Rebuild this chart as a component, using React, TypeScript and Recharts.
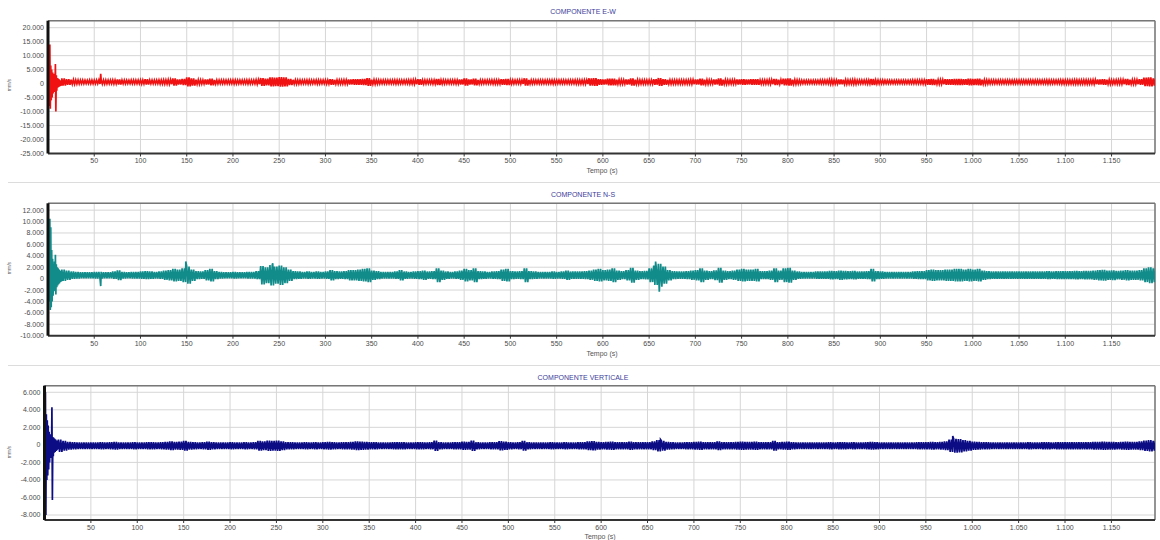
import React from "react";
import { LineChart, Line, XAxis, YAxis, CartesianGrid, ReferenceLine } from "recharts";

// time axis (seconds)
const T_MAX = 1197;
const TIME_TICKS = [50, 100, 150, 200, 250, 300, 350, 400, 450, 500, 550, 600, 650, 700, 750, 800, 850, 900, 950, 1000, 1050, 1100, 1150];
const BIN_START = 15; // envelope bins start here, every 5 s
const BIN_STEP = 5;

// --- COMPONENTE E-W ---
const EW_TICKS = [-25000, -20000, -15000, -10000, -5000, 0, 5000, 10000, 15000, 20000];
const EW_CENTER = 600;
const EW_ONSET_HI = [8000, 9000, 14000, 6500, 5000, 4000, 3500, 3000, 7000, 3000, 2000, 1800, 1500, 1200, 1000];
const EW_ONSET_LO = [-6000, -8000, -9000, -6000, -5000, -3500, -3000, -2500, -10000, -2500, -1500, -1200, -1000, -800, -700];
const EW_AMP = [
  1300, 1000, 800, 700, 650, 600, 650, 650, 700, 700,
  650, 700, 900, 650, 600, 650, 650, 700, 950, 650,
  650, 700, 750, 800, 1300, 900, 1100, 1600, 1300, 800,
  700, 900, 1200, 700, 650, 650, 650, 700, 650, 650,
  700, 650, 800, 1400, 1200, 1600, 1500, 1700, 1600, 1100,
  750, 700, 650, 700, 650, 700, 650, 700, 1000, 750,
  700, 750, 900, 1000, 1000, 1100, 1400, 800, 700, 650,
  650, 650, 700, 650, 650, 700, 800, 1000, 700, 650,
  700, 1100, 700, 650, 650, 700, 900, 1300, 900, 1200,
  700, 650, 650, 700, 700, 1000, 1100, 700, 650, 700,
  1300, 700, 650, 650, 650, 650, 700, 650, 650, 650,
  650, 700, 700, 750, 1300, 1400, 1000, 900, 1200, 1200,
  800, 750, 900, 1300, 800, 700, 700, 700, 1000, 1400,
  1000, 750, 700, 700, 700, 700, 800, 900, 1200, 800,
  700, 900, 1300, 800, 700, 750, 900, 1000, 900, 1000,
  1000, 700, 700, 800, 1100, 800, 1200, 1300, 800, 700,
  600, 600, 600, 600, 650, 650, 800, 700, 850, 800,
  700, 800, 650, 650, 700, 1100, 700, 650, 600, 600,
  600, 600, 600, 600, 650, 650, 700, 1000, 1100, 800,
  800, 1000, 1000, 1100, 1100, 1000, 1200, 1100, 1200, 800,
  700, 650, 650, 650, 650, 650, 650, 650, 650, 650,
  650, 650, 650, 700, 650, 650, 700, 700, 700, 750,
  700, 750, 700, 800, 900, 1000, 800, 700, 750, 800,
  1100, 800, 800, 1000, 1500, 1600, 1300,
];
const EW_SPIKES = [{ t: 57, v: 3500 }];

// --- COMPONENTE N-S ---
const NS_TICKS = [-10000, -8000, -6000, -4000, -2000, 0, 2000, 4000, 6000, 8000, 10000, 12000];
const NS_CENTER = 600;
const NS_ONSET_HI = [6000, 8000, 10500, 9000, 5000, 3500, 2500, 3000, 4200, 2500, 2000, 1800, 1600, 1400, 1300];
const NS_ONSET_LO = [-3000, -4000, -5500, -5000, -4000, -3000, -2000, -2200, -2800, -1500, -1200, -1000, -800, -600, -500];
const NS_AMP = [
  1000, 800, 650, 600, 550, 550, 550, 600, 600, 550,
  550, 650, 850, 600, 550, 600, 600, 650, 700, 650,
  600, 650, 800, 900, 1100, 1000, 1200, 1500, 1000, 700,
  650, 900, 1100, 700, 600, 550, 550, 600, 550, 550,
  600, 600, 700, 1600, 1400, 1800, 1500, 1700, 1400, 1000,
  700, 650, 600, 650, 600, 650, 600, 650, 900, 700,
  650, 700, 900, 900, 1000, 1100, 1200, 800, 700, 600,
  600, 600, 650, 900, 650, 600, 650, 700, 800, 650,
  700, 1200, 800, 650, 600, 650, 800, 1100, 900, 1200,
  700, 650, 600, 650, 700, 1000, 1100, 700, 650, 700,
  1200, 700, 650, 600, 600, 600, 650, 600, 650, 800,
  650, 650, 650, 700, 800, 1000, 1100, 900, 1000, 1200,
  800, 700, 900, 1300, 800, 700, 750, 1200, 1700, 2000,
  1500, 900, 700, 650, 650, 700, 800, 900, 1200, 800,
  700, 850, 1300, 800, 700, 800, 1000, 1100, 1000, 1000,
  1100, 700, 700, 800, 1200, 800, 1200, 1300, 800, 650,
  600, 600, 600, 650, 650, 650, 750, 700, 800, 750,
  700, 750, 650, 650, 700, 1100, 700, 650, 600, 600,
  600, 600, 600, 600, 650, 700, 700, 900, 1000, 900,
  900, 1000, 1000, 1100, 1100, 1000, 1100, 1000, 1100, 800,
  700, 650, 650, 650, 650, 650, 650, 650, 650, 650,
  650, 650, 650, 700, 650, 700, 700, 700, 700, 750,
  700, 750, 750, 800, 900, 950, 800, 850, 750, 800,
  900, 800, 800, 900, 1200, 1400, 1200,
];
const NS_SPIKES = [{ t: 57, v: -1300 }, { t: 149, v: 3000 }, { t: 243, v: 2700 }, { t: 661, v: -2300 }, { t: 657, v: 3000 }];

// --- COMPONENTE VERTICALE ---
const VT_TICKS = [-8000, -6000, -4000, -2000, 0, 2000, 4000, 6000];
const VT_CENTER = -100;
const VT_ONSET_HI = [9000, 6000, 3500, 2800, 2200, 1500, 1200, 1000, 4300, 900, 800, 700, 600, 500, 500];
const VT_ONSET_LO = [-9500, -8000, -4000, -3500, -2800, -2000, -1500, -1200, -6300, -1300, -900, -800, -700, -600, -500];
const VT_AMP = [
  700, 550, 450, 400, 380, 370, 380, 370, 380, 400,
  380, 400, 450, 380, 370, 380, 400, 380, 380, 420,
  400, 380, 420, 450, 500, 450, 480, 550, 450, 400,
  380, 420, 480, 400, 380, 370, 380, 400, 380, 380,
  400, 380, 420, 550, 500, 600, 550, 580, 500, 420,
  400, 380, 380, 400, 380, 400, 380, 400, 450, 400,
  380, 400, 420, 450, 500, 480, 450, 420, 400, 380,
  380, 380, 400, 420, 400, 380, 380, 400, 420, 380,
  400, 600, 420, 380, 380, 400, 420, 480, 450, 600,
  400, 380, 380, 400, 420, 520, 480, 400, 380, 400,
  550, 400, 380, 380, 380, 380, 400, 380, 380, 400,
  380, 380, 400, 420, 500, 520, 450, 420, 450, 480,
  420, 400, 420, 480, 420, 400, 400, 420, 500, 650,
  550, 450, 400, 380, 380, 400, 420, 450, 480, 420,
  400, 420, 500, 420, 400, 420, 450, 480, 450, 450,
  480, 400, 400, 420, 550, 420, 450, 480, 420, 380,
  380, 370, 370, 380, 380, 380, 400, 380, 400, 400,
  380, 400, 380, 380, 400, 450, 400, 380, 370, 370,
  370, 370, 370, 380, 380, 400, 400, 420, 450, 420,
  450, 500, 700, 800, 750, 650, 550, 480, 450, 420,
  400, 380, 380, 380, 380, 380, 380, 380, 380, 400,
  380, 380, 400, 400, 380, 400, 400, 420, 400, 420,
  400, 420, 420, 450, 450, 480, 450, 450, 420, 450,
  480, 450, 450, 500, 600, 650, 550,
];
const VT_SPIKES = [{ t: 979, v: 1000 }, { t: 664, v: 600 }];

type Pt = { t: number; v: number };

function buildTrace(center: number, onHi: number[], onLo: number[], amp: number[], spikes: Pt[]): Pt[] {
  const pts: Pt[] = [];
  onHi.forEach((h, i) => {
    pts.push({ t: i, v: h });
    pts.push({ t: i + 0.5, v: onLo[i] });
  });
  amp.forEach((a, i) => {
    const t0 = BIN_START + i * BIN_STEP;
    for (let k = 0; k < 4; k++) {
      pts.push({ t: t0 + k * 1.25, v: k % 2 === 0 ? center + a : center - a });
    }
  });
  spikes.forEach((s) => pts.push(s));
  return pts.sort((a, b) => a.t - b.t);
}

const fmt = (v: number) => {
  const s = Math.abs(v).toString().replace(/\B(?=(\d{3})+(?!\d))/g, ".");
  return v < 0 ? "-" + s : s;
};

const FONT = "'Liberation Sans', Arial, sans-serif";
const tickStyle = { fontSize: 7, fill: "#4a4a4a", fontFamily: FONT };

type PanelProps = {
  top: number;
  data: Pt[];
  color: string;
  domain: [number, number];
  ticks: number[];
  axisW: number;
  mTop: number;
  mBottom: number;
};

function Panel({ top, data, color, domain, ticks, axisW, mTop, mBottom }: PanelProps) {
  return (
    <div style={{ position: "absolute", left: 0, top, width: 1160, height: 180 }}>
      <LineChart width={1160} height={180} data={data} margin={{ top: mTop, right: 5, bottom: mBottom, left: 0 }}>
        <CartesianGrid stroke="#d6d6d6" strokeWidth={1} />
        <XAxis
          dataKey="t"
          type="number"
          domain={[0, T_MAX]}
          ticks={TIME_TICKS}
          allowDataOverflow
          tickFormatter={fmt}
          tick={tickStyle}
          tickSize={3}
          tickMargin={2}
          height={20}
          axisLine={{ stroke: "#333", strokeWidth: 2 }}
          tickLine={{ stroke: "#333" }}
          interval={0}
        />
        <YAxis
          type="number"
          domain={domain}
          ticks={ticks}
          allowDataOverflow
          tickFormatter={fmt}
          tick={tickStyle}
          tickSize={2}
          tickMargin={2}
          width={axisW}
          axisLine={{ stroke: "#111", strokeWidth: 3 }}
          tickLine={false}
          interval={0}
        />
        <ReferenceLine y={domain[1]} stroke="#777" strokeWidth={1.5} />
        <ReferenceLine x={T_MAX} stroke="#777" strokeWidth={1.5} />
        <Line type="linear" dataKey="v" stroke={color} strokeWidth={1.7} dot={false} isAnimationActive={false} />
      </LineChart>
    </div>
  );
}

const titleStyle: React.CSSProperties = {
  position: "absolute",
  width: 200,
  textAlign: "center",
  fontSize: 7,
  color: "#3c3c9a",
  fontFamily: FONT,
  lineHeight: "8px",
};
const tempoStyle: React.CSSProperties = {
  position: "absolute",
  width: 100,
  textAlign: "center",
  fontSize: 7,
  color: "#555",
  fontFamily: FONT,
  lineHeight: "8px",
};
const unitStyle: React.CSSProperties = {
  position: "absolute",
  width: 30,
  textAlign: "center",
  fontSize: 5,
  color: "#666",
  fontFamily: FONT,
  lineHeight: "6px",
  transform: "rotate(-90deg)",
};
const sepStyle: React.CSSProperties = {
  position: "absolute",
  left: 8,
  width: 1152,
  height: 1,
  background: "#dcdcdc",
};

export default function App() {
  const ew = buildTrace(EW_CENTER, EW_ONSET_HI, EW_ONSET_LO, EW_AMP, EW_SPIKES);
  const ns = buildTrace(NS_CENTER, NS_ONSET_HI, NS_ONSET_LO, NS_AMP, NS_SPIKES);
  const vt = buildTrace(VT_CENTER, VT_ONSET_HI, VT_ONSET_LO, VT_AMP, VT_SPIKES);

  return (
    <div style={{ position: "relative", width: 1160, height: 540, background: "#fff", overflow: "hidden" }}>
      <style>{`body{margin:0}`}</style>
      <Panel top={0} data={ew} color="#f01212" domain={[-25000, 22500]} ticks={EW_TICKS} axisW={48} mTop={20.7} mBottom={6.5} />
      <Panel top={180} data={ns} color="#128c8a" domain={[-10000, 13200]} ticks={NS_TICKS} axisW={48} mTop={23.3} mBottom={4.3} />
      <Panel top={360} data={vt} color="#0c0c84" domain={[-8570, 6750]} ticks={VT_TICKS} axisW={44.5} mTop={25.7} mBottom={0} />

      <div style={{ ...titleStyle, left: 483, top: 8 }}>COMPONENTE E-W</div>
      <div style={{ ...titleStyle, left: 483, top: 191 }}>COMPONENTE N-S</div>
      <div style={{ ...titleStyle, left: 483, top: 374 }}>COMPONENTE VERTICALE</div>

      <div style={{ ...tempoStyle, left: 552, top: 167 }}>Tempo (s)</div>
      <div style={{ ...tempoStyle, left: 552, top: 350 }}>Tempo (s)</div>
      <div style={{ ...tempoStyle, left: 550, top: 533 }}>Tempo (s)</div>

      <div style={{ ...unitStyle, left: -6, top: 82 }}>mm/s</div>
      <div style={{ ...unitStyle, left: -6, top: 265 }}>mm/s</div>
      <div style={{ ...unitStyle, left: -6, top: 449 }}>mm/s</div>

      <div style={{ ...sepStyle, top: 182 }} />
      <div style={{ ...sepStyle, top: 365 }} />
    </div>
  );
}
